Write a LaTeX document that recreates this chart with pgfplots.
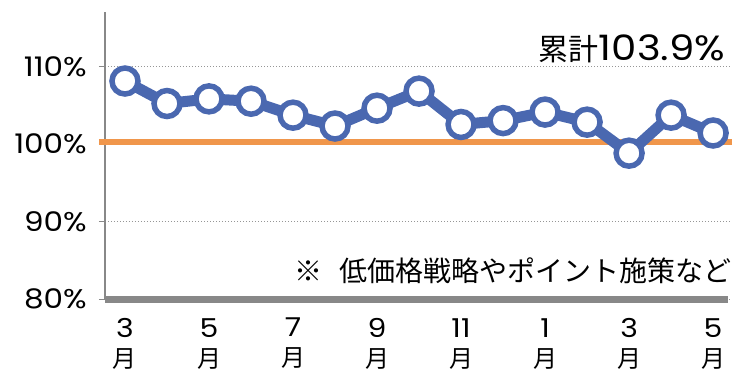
\documentclass[border=0pt]{standalone}
\usepackage{fontspec}
\setmainfont{Noto Sans CJK JP}
\newfontfamily\numfont{Poppins}[FakeStretch=1.15]
\usepackage{pgfplots}
\pgfplotsset{compat=1.18}
\definecolor{lineblue}{RGB}{74,104,176}
\definecolor{reforange}{RGB}{240,150,75}
\definecolor{axgray}{RGB}{136,136,136}
\definecolor{gridgray}{RGB}{150,150,150}
\begin{document}
\begin{tikzpicture}
\begin{axis}[
  at={(0,0)}, anchor=south west,
  scale only axis, width=627pt, height=287pt,
  xmin=-0.476, xmax=14.45, ymin=80, ymax=117,
  clip=false,
  axis x line*=bottom, axis y line*=left,
  x axis line style={-, line width=7pt, draw=axgray, shorten >=4pt},
  y axis line style={-, line width=1.5pt, draw=axgray},
  xtick={0,2,...,14},
  xticklabels={{\numfont\fontsize{26}{30}\selectfont 3}\\月,{\numfont\fontsize{26}{30}\selectfont 5}\\月,{\numfont\fontsize{26}{30}\selectfont 7}\\月,{\numfont\fontsize{26}{30}\selectfont 9}\\月,{\numfont\fontsize{26}{30}\selectfont 11}\\月,{\numfont\fontsize{26}{30}\selectfont 1}\\月,{\numfont\fontsize{26}{30}\selectfont 3}\\月,{\numfont\fontsize{26}{30}\selectfont 5}\\月},
  ytick={80,90,100,110},
  yticklabels={80\%,90\%,100\%,110\%},
  tick align=outside,
  major tick length=6pt,
  xtick style={draw=none},
  ytick style={draw=axgray, line width=1pt},
  ymajorgrids,
  grid style={draw=gridgray, line width=1pt, dash pattern=on 1pt off 2pt},
  yticklabel style={font=\numfont\fontsize{27}{28}\selectfont, inner sep=0pt, xshift=-12pt},
  xticklabel style={font=\fontsize{24}{30}\selectfont, align=center, inner sep=0pt, yshift=-13pt},
]
\addplot[draw=reforange, line width=5.5pt, forget plot] coordinates {(-0.62,100.25) (14.45,100.25)};
\addplot[draw=lineblue, line width=11pt, mark=*, mark size=13pt,
  mark options={fill=white, draw=lineblue, line width=5.5pt}] coordinates {
(0,108.1) (1,105.2) (2,105.8) (3,105.5) (4,103.7) (5,102.3) (6,104.6) (7,106.8)
(8,102.5) (9,103.0) (10,104.1) (11,102.8) (12,98.8) (13,103.7) (14,101.4)};
\node[anchor=base east, inner sep=0pt, font=\fontsize{30}{34}\selectfont] at (axis cs:14.29,110.7) {累計{\numfont\fontsize{35}{36}\selectfont 103.9\%}};
\node[anchor=base east, inner sep=0pt, font=\fontsize{28}{30}\selectfont] at (axis cs:14.45,82.2) {※\hspace{0.6em}低価格戦略やポイント施策など};
\end{axis}
\pgfresetboundingbox
\path (-105pt,-71pt) rectangle (639pt,299pt);
\end{tikzpicture}
\end{document}
